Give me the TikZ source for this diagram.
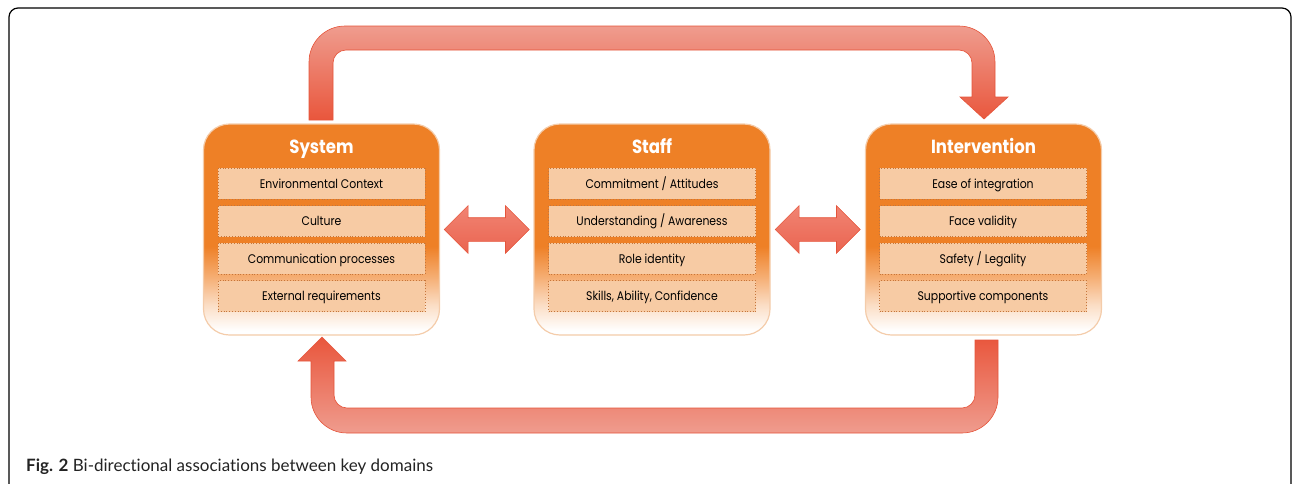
\documentclass[tikz,border=0pt]{standalone}
\usepackage{fontspec}
\setmainfont{Lato}[Ligatures=NoCommon]
\newfontfamily\boxfont[FakeStretch=0.87]{Poppins}
\usetikzlibrary{shapes.arrows,calc}

\definecolor{domorange}{RGB}{238,128,38}
\definecolor{fadeA}{RGB}{245,172,112}
\definecolor{fadeB}{RGB}{251,222,198}
\definecolor{domedge}{RGB}{244,204,170}
\definecolor{facetfill}{RGB}{247,203,164}
\definecolor{facetedge}{RGB}{196,118,60}
\definecolor{loopdark}{RGB}{233,86,60}
\definecolor{looplight}{RGB}{239,156,142}
\definecolor{arrowedge}{RGB}{229,84,58}
\definecolor{twotop}{RGB}{241,132,115}
\definecolor{twobot}{RGB}{234,100,80}
\definecolor{captext}{RGB}{35,35,35}

% orange at the top, fading to white towards the bottom
\pgfdeclareverticalshading{domainfade}{100bp}{color(0bp)=(white); color(26bp)=(white); color(32bp)=(fadeB); color(39bp)=(fadeA); color(46bp)=(domorange); color(100bp)=(domorange)}

\tikzset{
  domainbox/.style={rounded corners=26pt, minimum width=236pt, minimum height=211pt,
    shading=domainfade, draw=domedge, line width=1.2pt, inner sep=0pt},
  domtitle/.style={anchor=base, font=\boxfont\bfseries\fontsize{19}{22}\selectfont,
    text=white, inner sep=0pt},
  facet/.style={minimum width=207pt, minimum height=31pt, fill=facetfill, draw=facetedge,
    dotted, line width=0.8pt, inner sep=0pt, text height=10.5pt, text depth=1pt,
    font=\boxfont\fontsize{12.5}{14}\selectfont},
  twoway/.style={double arrow, double arrow head extend=12pt, double arrow tip angle=90,
    minimum height=85pt, inner sep=0pt, text height=11.5pt, text depth=11.5pt,
    top color=twotop, bottom color=twobot, draw=arrowedge, line width=0.6pt},
  loopdown/.style={top color=looplight, bottom color=loopdark, draw=arrowedge, line width=0.6pt},
  loopup/.style={top color=loopdark, bottom color=looplight, draw=arrowedge, line width=0.6pt},
  frame/.style={draw=black, line width=1.2pt, rounded corners=9pt}
}

\begin{document}
\begin{tikzpicture}[x=1pt,y=-1pt]
\useasboundingbox (0,0) rectangle (1293,483);

% outer frame, open at the lower edge
\begin{scope}
  \clip (0,0) rectangle (1293,483);
  \draw[frame] (9,8) rectangle (1291,493);
\end{scope}

% the three domains
\node[domainbox] (sys) at (321.5,229.5) {};
\node[domainbox] (staff) at (652,229.5) {};
\node[domainbox] (int) at (983.5,229.5) {};

\node[domtitle] (systitle) at (321.5,153) {System};
\node[domtitle] (stafftitle) at (652,153) {Staff};
\node[domtitle] (inttitle) at (983.5,153) {Intervention};

\node[facet] (s1) at (321.5,183.5) {Environmental Context};
\node[facet] (s2) at (321.5,221) {Culture};
\node[facet] (s3) at (321.5,258.5) {Communication processes};
\node[facet] (s4) at (321.5,296) {External requirements};

\node[facet] (t1) at (652,183.5) {Commitment / Attitudes};
\node[facet] (t2) at (652,221) {Understanding / Awareness};
\node[facet] (t3) at (652,258.5) {Role identity};
\node[facet] (t4) at (652,296) {Skills, Ability, Confidence};

\node[facet] (i1) at (983,183.5) {Ease of integration};
\node[facet] (i2) at (983,221) {Face validity};
\node[facet] (i3) at (983,258.5) {Safety / Legality};
\node[facet] (i4) at (983,296) {Supportive components};

% two-way links between neighbouring domains
\node[twoway] (ss) at ($(sys.east)!0.5!(staff.west)$) {};
\node[twoway] (si) at ($(staff.east)!0.5!(int.west)$) {};

% loop from System over the top to Intervention (y grows downwards here)
\path[loopdown] (309,120) -- (309,62) arc[start angle=180, end angle=270, radius=36]
  -- (959,26) arc[start angle=270, end angle=360, radius=36]
  -- (995,97) -- (1008,97) -- (984,119) -- (960,97) -- (972,97)
  -- (972,63) arc[start angle=0, end angle=-90, radius=13]
  -- (346,50) arc[start angle=270, end angle=180, radius=13]
  -- (333,120) -- cycle;

% loop from Intervention under the bottom back to System
\path[loopup] (998,340) -- (998,397) arc[start angle=0, end angle=90, radius=36]
  -- (347,433) arc[start angle=90, end angle=180, radius=36]
  -- (311,361) -- (298,361) -- (322,337) -- (346,361) -- (334,361)
  -- (334,395) arc[start angle=180, end angle=90, radius=13]
  -- (962,408) arc[start angle=90, end angle=0, radius=13]
  -- (975,340) -- cycle;

% caption
\node[anchor=base west, inner sep=0pt, text=captext, font=\fontsize{17}{20}\selectfont]
  (cap) at (26,471) {\textbf{Fig. 2} Bi-directional associations between key domains};
\end{tikzpicture}
\end{document}
